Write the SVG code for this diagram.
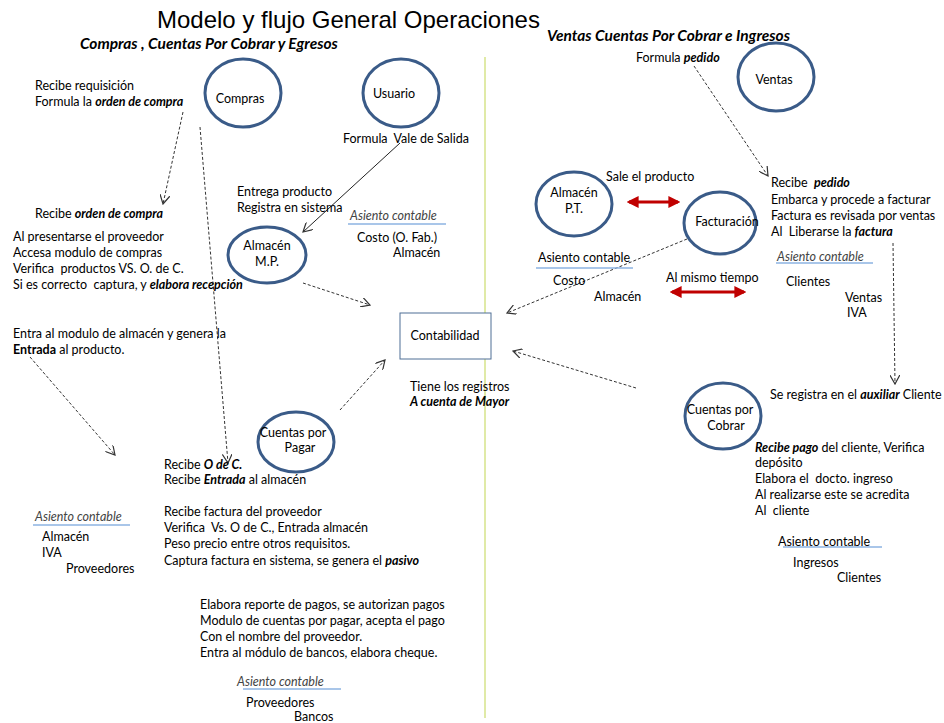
<svg xmlns="http://www.w3.org/2000/svg" width="944" height="723" viewBox="0 0 944 723">
<style>
text{font-family:Lato,"Liberation Sans",sans-serif;font-size:12.5px;fill:#000;white-space:pre}
.t{font-family:"Liberation Sans",Arial,sans-serif;font-size:24px;fill:#000}
.st{font-weight:bold;font-style:italic;font-size:15.5px}
.bi{font-weight:bold;font-style:italic}
.b{font-weight:bold}
.ac{font-style:italic;fill:#444}
.n{fill:#fff;stroke:#3a5b88;stroke-width:3}
.box{fill:#fff;stroke:#4f6f95;stroke-width:1}
.ul{stroke:#8db3e2;stroke-width:1.5}
.d{fill:none;stroke:#333;stroke-width:1;stroke-dasharray:3 2;marker-end:url(#v)}
.s{fill:none;stroke:#222;stroke-width:1;marker-end:url(#v)}
.r{fill:none;stroke:#c00000;stroke-width:3;marker-start:url(#rh);marker-end:url(#rh)}
</style>
<defs>
<marker id="v" viewBox="0 0 10 10" refX="9" refY="5" markerWidth="10" markerHeight="10" markerUnits="userSpaceOnUse" orient="auto-start-reverse">
<path d="M0,0 L9,5 L0,10" fill="none" stroke="#333" stroke-width="1.2"/>
</marker>
<marker id="rh" viewBox="0 0 10 10" refX="8" refY="5" markerWidth="12" markerHeight="12" markerUnits="userSpaceOnUse" orient="auto-start-reverse">
<path d="M0,0 L10,5 L0,10 Z" fill="#c00000"/>
</marker>
</defs>
<rect width="944" height="723" fill="#fff"/>
<line x1="485" y1="57" x2="485" y2="718" stroke="#d6e38a" stroke-width="1.5"/>

<text class="t" x="157" y="28">Modelo y flujo General Operaciones</text>
<text class="st" x="80" y="49">Compras , Cuentas Por Cobrar y Egresos</text>
<text class="st" x="547" y="41">Ventas Cuentas Por Cobrar e Ingresos</text>

<g id="connectors">
<path class="d" d="M183,112 L163,204"/>
<path class="d" d="M200,127 L228,463"/>
<path class="d" d="M30,357 L115,455"/>
<path class="d" d="M303,283 L370,305"/>
<path class="d" d="M340,410 L385,360"/>
<path class="d" d="M694,66 L768,176"/>
<path class="d" d="M687,239 L507,313"/>
<path class="d" d="M893,243 L895,384"/>
<path class="d" d="M636,388 L513,351"/>
<path class="s" d="M400,143 L303,232"/>
<path class="r" d="M629,202 L678,202"/>
<path class="r" d="M672,292 L744,292"/>
</g>

<g id="compras"><ellipse class="n" cx="243" cy="93" rx="38" ry="34"/><text x="240" y="103" text-anchor="middle">Compras</text></g>
<g id="usuario"><ellipse class="n" cx="401" cy="93" rx="38" ry="34"/><text x="394" y="98" text-anchor="middle">Usuario</text></g>
<g id="ventas"><ellipse class="n" cx="776" cy="77" rx="38" ry="34"/><text x="774" y="84" text-anchor="middle">Ventas</text></g>
<g id="almacen-mp"><ellipse class="n" cx="267" cy="255" rx="39" ry="28"/><text x="267" y="250" text-anchor="middle">Almacén</text><text x="267" y="266" text-anchor="middle">M.P.</text></g>
<g id="almacen-pt"><ellipse class="n" cx="574" cy="204" rx="38" ry="32"/><text x="574" y="197" text-anchor="middle">Almacén</text><text x="574" y="213" text-anchor="middle">P.T.</text></g>
<g id="facturacion"><ellipse class="n" cx="720" cy="223" rx="36" ry="31"/><text x="727" y="226" text-anchor="middle">Facturación</text></g>
<g id="cxp"><ellipse class="n" cx="296" cy="442" rx="38" ry="30"/><text x="293" y="437" text-anchor="middle">Cuentas por</text><text x="300" y="452" text-anchor="middle">Pagar</text></g>
<g id="cxc"><ellipse class="n" cx="723" cy="416" rx="38" ry="33"/><text x="720" y="414" text-anchor="middle">Cuentas por</text><text x="726" y="430" text-anchor="middle">Cobrar</text></g>
<g id="contabilidad"><rect class="box" x="400" y="313" width="91" height="46"/><text x="445" y="340" text-anchor="middle">Contabilidad</text></g>

<g id="texts-left">
<text x="35" y="90">Recibe requisición</text>
<text x="35" y="106">Formula la <tspan class="bi">orden de compra</tspan></text>
<text x="343" y="143">Formula  Vale de Salida</text>
<text x="237" y="196">Entrega producto</text>
<text x="237" y="212">Registra en sistema</text>
<text class="ac" x="350" y="220">Asiento contable</text>
<line class="ul" x1="348" y1="224" x2="446" y2="224"/>
<text x="357" y="242">Costo (O. Fab.)</text>
<text x="393" y="257">Almacén</text>
<text x="35" y="218">Recibe <tspan class="bi">orden de compra</tspan></text>
<text x="13" y="241">Al presentarse el proveedor</text>
<text x="13" y="257">Accesa modulo de compras</text>
<text x="13" y="273">Verifica  productos VS. O. de C.</text>
<text x="13" y="289">Si es correcto  captura, y <tspan class="bi">elabora recepción</tspan></text>
<text x="13" y="338">Entra al modulo de almacén y genera la</text>
<text x="13" y="354"><tspan class="b">Entrada</tspan> al producto.</text>
<text x="410" y="391">Tiene los registros</text>
<text class="bi" x="410" y="406">A cuenta de Mayor</text>
<text class="ac" x="35" y="521">Asiento contable</text>
<line class="ul" x1="33" y1="525" x2="130" y2="525"/>
<text x="42" y="541">Almacén</text>
<text x="42" y="557">IVA</text>
<text x="66" y="573">Proveedores</text>
<text x="164" y="469">Recibe <tspan class="bi">O de C.</tspan></text>
<text x="164" y="484">Recibe <tspan class="bi">Entrada</tspan> al almacén</text>
<text x="164" y="516">Recibe factura del proveedor</text>
<text x="164" y="532">Verifica  Vs. O de C., Entrada almacén</text>
<text x="164" y="548">Peso precio entre otros requisitos.</text>
<text x="164" y="565">Captura factura en sistema, se genera el <tspan class="bi">pasivo</tspan></text>
<text x="200" y="609">Elabora reporte de pagos, se autorizan pagos</text>
<text x="200" y="625">Modulo de cuentas por pagar, acepta el pago</text>
<text x="200" y="641">Con el nombre del proveedor.</text>
<text x="200" y="657">Entra al módulo de bancos, elabora cheque.</text>
<text class="ac" x="237" y="686">Asiento contable</text>
<line class="ul" x1="243" y1="689" x2="341" y2="689"/>
<text x="246" y="707">Proveedores</text>
<text x="294" y="721">Bancos</text>
</g>

<g id="texts-right">
<text x="636" y="62">Formula <tspan class="bi">pedido</tspan></text>
<text x="606" y="181">Sale el producto</text>
<text x="771" y="187">Recibe  <tspan class="bi">pedido</tspan></text>
<text x="771" y="204">Embarca y procede a facturar</text>
<text x="771" y="220">Factura es revisada por ventas</text>
<text x="771" y="236">Al  Liberarse la <tspan class="bi">factura</tspan></text>
<text class="ac" x="777" y="261">Asiento contable</text>
<line class="ul" x1="776" y1="263" x2="873" y2="263"/>
<text x="786" y="286">Clientes</text>
<text x="845" y="302">Ventas</text>
<text x="847" y="317">IVA</text>
<text x="538" y="262">Asiento contable</text>
<line class="ul" x1="536" y1="268" x2="633" y2="268"/>
<text x="553" y="285">Costo</text>
<text x="594" y="301">Almacén</text>
<text x="666" y="282">Al mismo tiempo</text>
<text x="770" y="399">Se registra en el <tspan class="bi">auxiliar</tspan> Cliente</text>
<text x="755" y="452"><tspan class="bi">Recibe pago</tspan> del cliente, Verifica</text>
<text x="755" y="467">depósito</text>
<text x="755" y="483">Elabora el  docto. ingreso</text>
<text x="755" y="499">Al realizarse este se acredita</text>
<text x="755" y="515">Al  cliente</text>
<text x="778" y="546">Asiento contable</text>
<line class="ul" x1="783" y1="547" x2="882" y2="547"/>
<text x="793" y="567">Ingresos</text>
<text x="837" y="582">Clientes</text>
</g>
</svg>
